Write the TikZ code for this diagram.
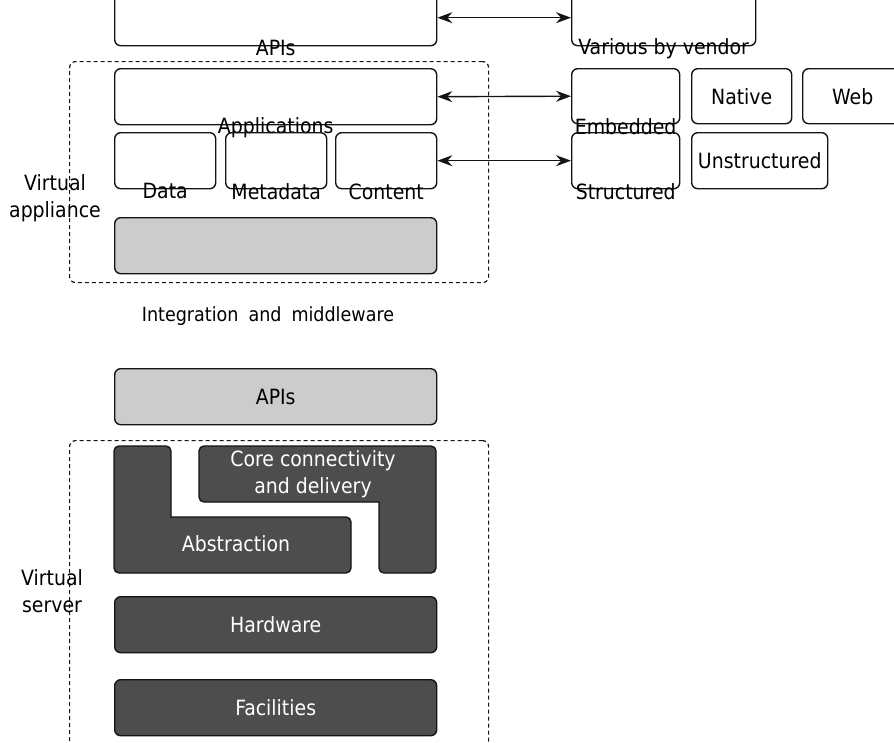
\documentclass[tikz,border=0pt]{standalone}
\usepackage{fontspec}
\setmainfont{DejaVu Sans Condensed}
\usetikzlibrary{arrows.meta}
\definecolor{lightfill}{HTML}{CCCCCC}
\definecolor{darkfill}{HTML}{4D4D4D}
\definecolor{edge}{HTML}{141414}
\begin{document}
\begin{tikzpicture}[x=1pt,y=-1pt,
  font=\fontsize{21}{27}\selectfont,
  box/.style={draw=edge, line width=1.4pt, rounded corners=6pt, inner sep=0pt,
    anchor=north west, minimum height=56pt},
  lightbox/.style={box, fill=lightfill},
  darkbox/.style={box, fill=darkfill, text=white},
  darkshape/.style={draw=edge, line width=1.4pt, fill=darkfill},
  group/.style={draw=edge, line width=1.2pt, dash pattern=on 4pt off 3pt,
    rounded corners=6pt, inner sep=0pt, anchor=north west},
  edgelabel/.style={inner sep=0pt, anchor=center, yshift=-2pt},
  sidelabel/.style={align=center, inner sep=0pt},
  link/.style={line width=1.4pt, draw=edge,
    {Stealth[length=15pt,width=11pt,inset=5pt]}-{Stealth[length=15pt,width=11pt,inset=5pt]}}
]
\useasboundingbox (0,0) rectangle (894,742);
\clip (0,0) rectangle (894,742);

% ---- virtual appliance stack ----
\node[group, minimum width=419pt, minimum height=221pt] (appliance) at (69,61) {};
\node[box, minimum width=322pt] (apis) at (114,-11) {};
\node[edgelabel] (apislabel) at (apis.south) {APIs};
\node[box, minimum width=322pt, minimum height=56pt] (apps) at (114,68) {};
\node[edgelabel] (appslabel) at (apps.south) {Applications};
\node[box, minimum width=101pt] (data) at (114,132) {};
\node[edgelabel] (datalabel) at (data.south) {Data};
\node[box, minimum width=101pt] (meta) at (225,132) {};
\node[edgelabel] (metalabel) at (meta.south) {Metadata};
\node[box, minimum width=101pt] (content) at (335,132) {};
\node[edgelabel] (contentlabel) at (content.south) {Content};
\node[lightbox, minimum width=322pt] (middleware) at (114,217) {};
\node[sidelabel] (appliancelabel) at (55,198) {Virtual\\appliance};

% ---- vendor side ----
\node[box, minimum width=184pt] (vendor) at (571,-11) {};
\node[edgelabel] (vendorlabel) at (vendor.south) {Various by vendor};
\node[box, minimum width=108pt, minimum height=55pt] (embedded) at (571,68) {};
\node[edgelabel] (embeddedlabel) at (embedded.south) {Embedded};
\node[box, minimum width=100pt, minimum height=55pt] (native) at (691,68) {Native};
\node[box, minimum width=100pt, minimum height=55pt] (web) at (802,68) {Web};
\node[box, minimum width=108pt] (structured) at (571,132) {};
\node[edgelabel] (structuredlabel) at (structured.south) {Structured};
\node[box, minimum width=136pt] (unstructured) at (691,132) {Unstructured};

\draw[link] (apis.east) -- (vendor.west);
\draw[link] (apps.east) -- (embedded.west);
\draw[link] (content.east) -- (structured.west);

\node[inner sep=0pt, font=\fontsize{19.5}{24}\selectfont] (integration) at (268,316)
  {Integration\hspace{10pt}and\hspace{10pt}middleware};

% ---- virtual server stack ----
\node[lightbox, minimum width=322pt] (lowapis) at (114,368) {APIs};
\node[group, minimum width=419pt, minimum height=330pt] (server) at (69,440) {};

\draw[darkshape, rounded corners=5pt] (114,446) -- (171,446)
  [sharp corners] -- (171,517) [rounded corners=5pt] -- (351,517) -- (351,573)
  -- (114,573) -- cycle;
\node[text=white, inner sep=0pt] (abstraction) at (236,544) {Abstraction};

\draw[darkshape, rounded corners=5pt] (199,446) -- (436,446) -- (436,573) -- (379,573)
  [sharp corners] -- (379,502) [rounded corners=5pt] -- (199,502) -- cycle;
\node[text=white, align=center, inner sep=0pt] (core) at (313,474)
  {Core connectivity\\and delivery};

\node[darkbox, minimum width=322pt] (hardware) at (114,596) {Hardware};
\node[darkbox, minimum width=322pt] (facilities) at (114,679) {Facilities};
\node[sidelabel] (serverlabel) at (52,591) {Virtual\\server};
\end{tikzpicture}
\end{document}
